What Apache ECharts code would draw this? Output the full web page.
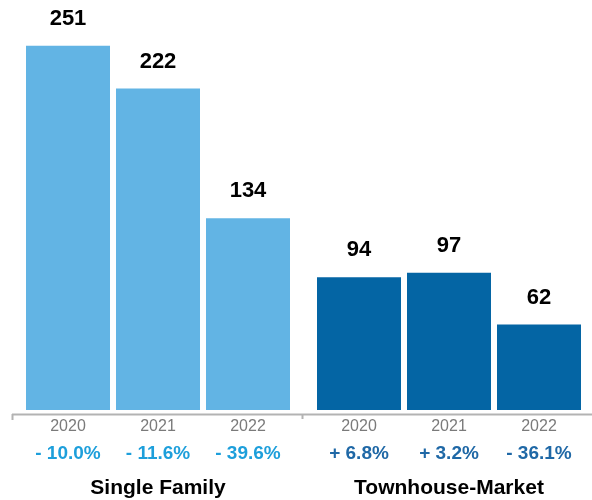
<!DOCTYPE html>
<html>
<head>
<meta charset="utf-8">
<style>
  html, body { margin: 0; padding: 0; background: #fff; }
  #main { width: 592px; height: 500px; }
</style>
<script src="https://cdn.jsdelivr.net/npm/echarts@6/dist/echarts.min.js"></script>
</head>
<body>
<div id="main"></div>
<script>
// data
var years = ['2020', '2021', '2022'];
var singleFamily = [251, 222, 134];
var townhouse = [94, 97, 62];
var singleChange = ['- 10.0%', '- 11.6%', '- 39.6%'];
var townChange = ['+ 6.8%', '+ 3.2%', '- 36.1%'];
var groupNames = ['Single Family', 'Townhouse-Market'];

var FONT = '"Liberation Sans", Arial, Helvetica, sans-serif';
var lightBlue = '#62b4e4';
var darkBlue = '#0465a4';

function xAxisFor (idx, changes, pctColor) {
  return {
    gridIndex: idx,
    type: 'category',
    data: years,
    axisLine: { show: false },
    axisTick: { show: false },
    name: groupNames[idx],
    nameLocation: 'middle',
    nameGap: 68,
    nameTextStyle: { color: '#000', fontSize: 21, fontWeight: 'bold', fontFamily: FONT },
    axisLabel: {
      margin: 3,
      interval: 0,
      formatter: function (val, i) {
        return '{y|' + val + '}\n{p|' + changes[i] + '}'
      },
      rich: {
        y: { color: '#7a7a7a', fontSize: 16, lineHeight: 28, fontFamily: FONT },
        p: { color: pctColor, fontSize: 19, fontWeight: 'bold', lineHeight: 26, fontFamily: FONT }
      }
    }
  }
}

function yAxisFor (idx) {
  return {
    gridIndex: idx,
    type: 'value',
    min: 4,
    max: 282,
    show: false,
    splitLine: { show: false }
  }
}

function seriesFor (idx, values, color) {
  return {
    type: 'bar',
    xAxisIndex: idx,
    yAxisIndex: idx,
    data: values,
    barWidth: 84,
    itemStyle: { color: color },
    label: {
      show: true,
      position: 'top',
      distance: 16,
      color: '#000',
      fontSize: 22,
      fontWeight: 'bold',
      fontFamily: FONT
    }
  }
}

var myChart = echarts.init(document.getElementById('main'));
myChart.setOption({
  animation: false,
  grid: [
    { left: 23, width: 270, top: 0, bottom: 90, outerBoundsMode: 'none' },
    { left: 314, width: 270, top: 0, bottom: 90, outerBoundsMode: 'none' }
  ],
  xAxis: [
    xAxisFor(0, singleChange, '#1d9fdb'),
    xAxisFor(1, townChange, '#1f68a6')
  ],
  yAxis: [yAxisFor(0), yAxisFor(1)],
  series: [
    seriesFor(0, singleFamily, lightBlue),
    seriesFor(1, townhouse, darkBlue)
  ],
  graphic: [
    { type: 'line', shape: { x1: 12, y1: 414.5, x2: 592, y2: 414.5 }, style: { stroke: '#b3b3b3', lineWidth: 2 } },
    { type: 'line', shape: { x1: 12.5, y1: 414, x2: 12.5, y2: 420 }, style: { stroke: '#b3b3b3', lineWidth: 2 } },
    { type: 'line', shape: { x1: 302.5, y1: 414, x2: 302.5, y2: 419 }, style: { stroke: '#b3b3b3', lineWidth: 2 } }
  ]
});
window.addEventListener('resize', function () {
  myChart.resize()
});
</script>
</body>
</html>
